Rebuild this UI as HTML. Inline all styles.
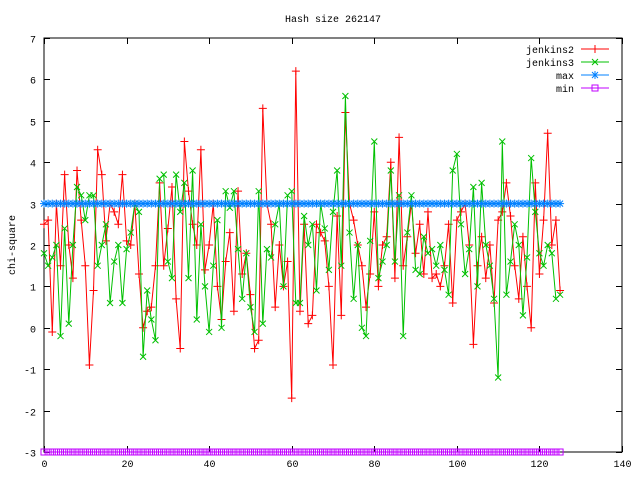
<!DOCTYPE html>
<html><head><meta charset="utf-8"><style>
body{margin:0;background:#fff}
svg{display:block;font-family:"Liberation Mono","DejaVu Sans Mono",monospace;font-size:10px}
</style></head><body>
<svg id="chart" width="640" height="480" xmlns="http://www.w3.org/2000/svg">
<text x="333" y="22" text-anchor="middle">Hash size 262147</text>
<text transform="translate(15,245) rotate(-90)" text-anchor="middle">chi-square</text>
<g id="axes"></g><g id="series"></g><g id="legend"></g>
</svg>
<script>
const xTicks=[0,20,40,60,80,100,120,140];
const yTicks=[-3,-2,-1,0,1,2,3,4,5,6,7];
const seriesNames=["jenkins2","jenkins3","max","min"];
const jenkins2=[2.5,2.6,-0.1,3.0,1.5,3.7,2.0,1.2,3.8,2.6,1.5,-0.9,0.9,4.3,3.7,2.1,3.0,2.8,2.5,3.7,2.1,2.0,3.0,1.3,0.0,0.4,0.5,1.5,3.5,1.5,2.4,3.4,0.7,-0.5,4.5,3.3,2.5,2.0,4.3,1.4,2.0,3.0,1.0,0.2,1.6,2.3,0.4,3.3,1.3,1.8,0.8,-0.5,-0.3,5.3,3.0,2.5,0.5,2.0,1.0,1.6,-1.7,6.2,0.4,2.5,0.1,0.3,2.5,2.3,2.1,1.0,-0.9,2.7,0.3,5.2,3.0,2.6,2.0,1.5,0.5,1.3,2.8,1.0,2.0,2.2,4.0,1.2,4.6,1.5,2.2,3.0,1.8,2.5,1.3,2.8,1.2,1.3,1.0,1.5,2.5,0.6,2.6,2.8,3.0,2.0,-0.4,1.5,2.2,1.2,2.0,0.6,2.6,2.8,3.5,2.7,1.5,0.7,2.2,1.0,0.0,3.5,1.3,2.6,4.7,2.0,2.6,0.9];
const jenkins3=[1.8,1.5,1.7,2.0,-0.2,2.4,0.1,2.0,3.4,3.2,2.6,3.2,3.2,1.5,2.0,2.5,0.6,1.6,2.0,0.6,1.9,2.3,3.0,2.8,-0.7,0.9,0.2,-0.3,3.6,3.7,1.6,1.2,3.7,2.8,3.5,1.2,3.8,0.2,2.5,1.0,-0.1,1.5,2.6,0.0,3.3,2.9,3.3,1.9,0.7,1.8,0.5,-0.1,3.3,0.1,1.9,1.7,2.5,3.0,1.0,3.2,3.3,0.6,0.6,2.7,2.0,2.5,0.9,3.0,2.4,1.4,2.8,3.8,1.5,5.6,2.3,0.7,2.0,0.0,-0.2,2.1,4.5,1.2,1.6,2.0,3.8,1.6,3.2,-0.2,2.3,3.2,1.4,1.3,2.2,1.8,1.9,1.5,2.0,1.4,0.8,3.8,4.2,2.5,1.3,1.9,3.4,1.0,3.5,2.0,1.5,0.7,-1.2,4.5,0.8,1.6,2.5,2.0,0.3,1.7,4.1,2.8,1.8,1.5,2.0,1.8,0.7,0.8];
const maxVal=3, minVal=-3;
const NS="http://www.w3.org/2000/svg";
const L=44,R=622,T=38,B=452;
const xs=v=>L+(v-0)/(140-0)*(R-L);
const ys=v=>B-(v+3)/(10)*(B-T);
function mk(tag,attrs,parent){const e=document.createElementNS(NS,tag);for(const k in attrs)e.setAttribute(k,attrs[k]);parent.appendChild(e);return e;}
const axes=document.getElementById('axes');
const frame=mk('rect',{x:L,y:T,width:R-L,height:B-T,fill:'none',stroke:'#000','stroke-width':1},axes);


xTicks.forEach(t=>{const x=Math.round(xs(t))+0.5;
 const l=mk('path',{d:`M${x},${B}v-6M${x},${T}v6`,stroke:'#000'},axes);
 
 
 const tx=mk('text',{x:x,y:B+15,'text-anchor':'middle'},axes);tx.textContent=t;
 
 });
yTicks.forEach(t=>{const y=Math.round(ys(t))+0.5;
 const l=mk('path',{d:`M${L},${y}h6M${R},${y}h-6`,stroke:'#000'},axes);
 
 
 const tx=mk('text',{x:L-8,y:y+4,'text-anchor':'end'},axes);tx.textContent=t;
 
 });
const colors=['#ff0000','#00c000','#0080ff','#c000ff'];
function marker(type,x,y,c,g){
 let d;
 if(type==0)d=`M${x-4},${y}h8M${x},${y-4}v8`;
 else if(type==1)d=`M${x-3},${y-3}l6,6M${x-3},${y+3}l6,-6`;
 else if(type==2)d=`M${x-4},${y}h8M${x},${y-4}v8M${x-3},${y-3}l6,6M${x-3},${y+3}l6,-6`;
 else d=`M${x-3},${y-3}h6v6h-6z`;
 const m=mk('path',{d:d,stroke:c,fill:'none','stroke-width':1},g);
 
 
}
const sg=document.getElementById('series');
const allData=[jenkins2,jenkins3,jenkins2.map(()=>maxVal),jenkins2.map(()=>minVal)];
allData.forEach((arr,si)=>{
 const g=mk('g',{},sg);
 
 
 const pts=arr.map((v,i)=>xs(i).toFixed(1)+','+ys(v).toFixed(1)).join(' ');
 const pl=mk('polyline',{points:pts,fill:'none',stroke:colors[si],'stroke-width':1},g);
 
 
 arr.forEach((v,i)=>marker(si,xs(i),ys(v),colors[si],g));
});
const lg=document.getElementById('legend');
const legendY=[49,62,75,88];
seriesNames.forEach((n,i)=>{
 const y=legendY[i];
 const g=mk('g',{},lg);
 
 
 const t=mk('text',{x:574,y:y+4,'text-anchor':'end'},g);t.textContent=n;
 const l=mk('path',{d:`M581,${y}h28`,stroke:colors[i]},g);
 marker(i,595,y,colors[i],g);
});
</script>
</body></html>
